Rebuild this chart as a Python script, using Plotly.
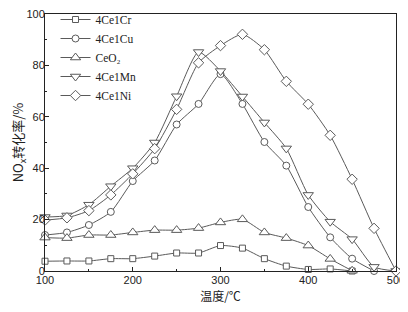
import plotly.graph_objects as go

temps = [100, 125, 150, 175, 200, 225, 250, 275, 300, 325, 350, 375, 400, 425, 450, 475, 500]

cr = [3.8, 3.9, 3.9, 4.8, 4.8, 5.8, 7.0, 7.0, 9.9, 8.9, 4.8, 1.9, 0.6, 0.8, 0]
cu = [14.0, 15.0, 17.9, 23.0, 35.0, 43.0, 57.0, 65.0, 76.6, 65.0, 50.2, 41.0, 24.9, 13.1, 4.8, 0]
ceo2 = [13.0, 12.8, 14.0, 14.0, 15.0, 15.9, 15.9, 16.7, 18.9, 20.1, 15.0, 12.8, 9.9, 4.7, 0.1]
mn = [21.0, 21.6, 25.8, 33.0, 40.0, 50.0, 68.0, 85.2, 77.8, 67.9, 57.8, 47.7, 29.6, 19.2, 12.4, 1.6, 0]
ni = [19.8, 20.7, 23.5, 29.6, 37.8, 47.6, 62.9, 81.0, 87.7, 92.1, 86.1, 73.8, 64.9, 52.8, 35.7, 16.6, 0]

names = ["4Ce1Cr", "4Ce1Cu", "CeO₂", "4Ce1Mn", "4Ce1Ni"]
series = [cr, cu, ceo2, mn, ni]
symbols = ["square", "circle", "triangle-up", "triangle-down", "diamond"]
sizes = [6, 7, 9, 9, 8]

x_ticks = [100, 200, 300, 400, 500]
y_ticks = [0, 20, 40, 60, 80, 100]

gray = "#5a5a5a"
fig = go.Figure()
for name, vals, sym, sz in zip(names, series, symbols, sizes):
    fig.add_trace(go.Scatter(
        x=temps[:len(vals)], y=vals, name=name,
        mode="lines+markers",
        line=dict(color=gray, width=1, shape="spline", smoothing=0.6),
        marker=dict(symbol=sym, size=sz, color="white", line=dict(color=gray, width=1)),
        cliponaxis=False,
    ))

# page body adds an 8px offset; figure sized to compensate and avoid scrolling
fig.update_layout(
    width=400, height=296,
    margin=dict(l=37, r=12, t=6, b=33, autoexpand=False),
    paper_bgcolor="white", plot_bgcolor="white",
    showlegend=True,
    legend=dict(x=0.03, y=1.035, xanchor="left", yanchor="top",
                font=dict(family="Liberation Serif", size=11.5, color="#222"),
                bgcolor="rgba(0,0,0,0)", tracegroupgap=0, itemwidth=30),
    font=dict(family="Liberation Sans", size=11, color="#222"),
)
fig.update_xaxes(
    range=[100, 500], tickvals=x_ticks, ticks="inside", ticklen=4,
    tickcolor="#222", showline=True, linecolor="#222", linewidth=1, mirror=True,
    showgrid=False, zeroline=False, automargin=False, ticklabelstandoff=-1,
    ticklabeloverflow="allow",
    minor=dict(ticks="inside", ticklen=2, dtick=50, tickcolor="#222"),
    title=dict(text="温度/℃", font=dict(family="Noto Sans CJK SC", size=12), standoff=11),
)
fig.update_yaxes(
    range=[0, 100], tickvals=y_ticks, ticks="inside", ticklen=4,
    tickcolor="#222", showline=True, linecolor="#222", linewidth=1, mirror=True,
    showgrid=False, zeroline=False, automargin=False, ticklabelstandoff=-3,
    ticklabeloverflow="allow",
    minor=dict(ticks="inside", ticklen=2, dtick=10, tickcolor="#222"),
    title=dict(text="NO<sub>x</sub>转化率/%", font=dict(family="Noto Sans CJK SC", size=13), standoff=0),
)

fig.write_html("out.html")
